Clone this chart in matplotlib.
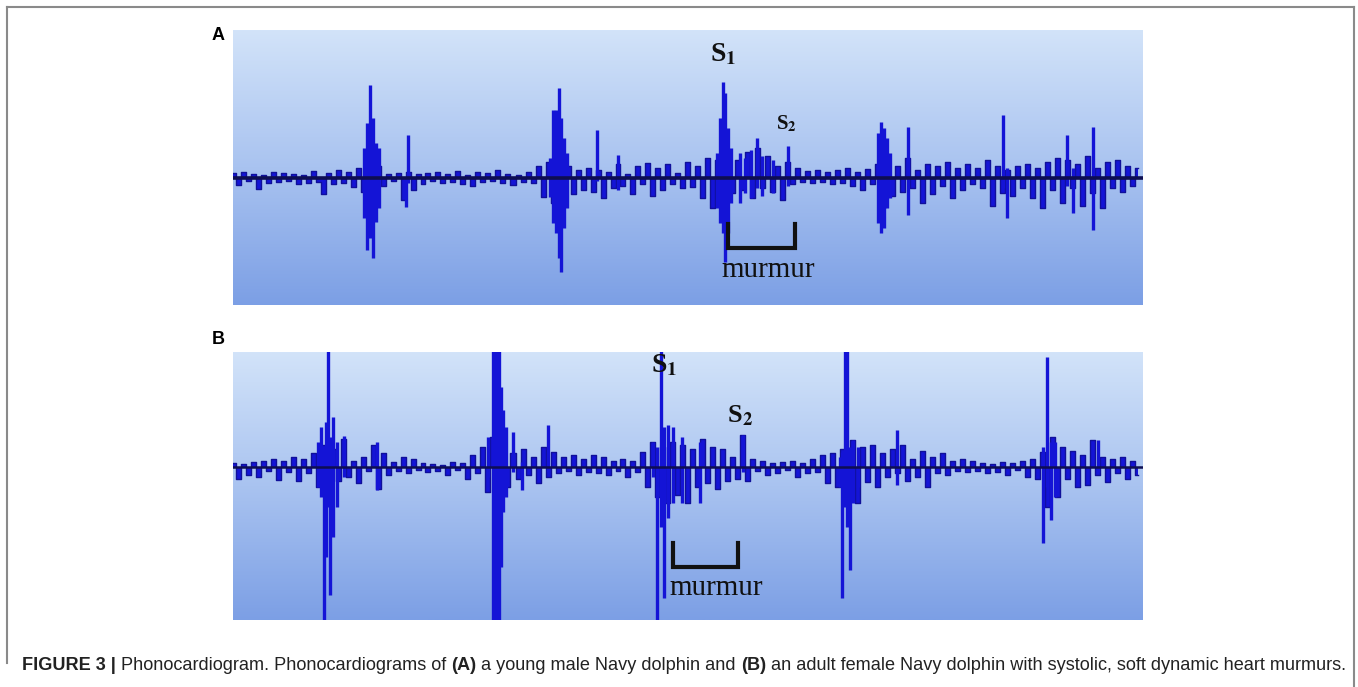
import matplotlib.pyplot as plt
import numpy as np
from matplotlib.colors import LinearSegmentedColormap
from matplotlib.lines import Line2D

W, H = 1358, 687

# trace samples every 5 units (units = px of original plot width, 0..910)
dt = 5

# ---- panel A : young male ----
noise_a = [5, -7, 6, -3, 4, -11, 3, -5, 6, -4,
           5, -3, 4, -6, 3, -5, 7, -4, -16, 5,
           -6, 8, -5, 6, -9, 10, -14, 14, -18, 12,
           -8, 4, -3, 5, -22, 6, -12, 4, -6, 5,
           -3, 6, -5, 4, -4, 7, -6, 3, -8, 6,
           -4, 5, -3, 8, -5, 4, -7, 3, -4, 6,
           -5, 12, -19, 16, -25, 20, -22, 12, -16, 8,
           -12, 10, -14, 8, -20, 6, -10, 14, -8, 4,
           -16, 12, -6, 15, -18, 10, -12, 14, -6, 5,
           -10, 16, -9, 12, -20, 20, -30, 18, -34, 22,
           -15, 18, -12, 26, -20, 30, -10, 22, -14, 12,
           -22, 16, -6, 10, -4, 7, -5, 8, -4, 6,
           -6, 8, -5, 10, -8, 6, -12, 9, -6, 14,
           -30, 22, -18, 12, -14, 20, -10, 8, -25, 14,
           -16, 12, -8, 16, -20, 10, -12, 14, -6, 10,
           -10, 18, -28, 12, -15, 8, -18, 12, -10, 14,
           -20, 10, -30, 16, -12, 20, -25, 18, -10, 14,
           -28, 22, -15, 10, -30, 16, -10, 18, -14, 12,
           -8, 10]

spk_x_a = [131, 134, 137, 140, 143, 146, 173, 175,
           317, 320, 323, 326, 328, 331, 334, 364, 385,
           484, 487, 490, 492, 495, 498, 507, 512, 518, 524, 529, 540, 555,
           645, 648, 651, 654, 657, 675, 770, 774, 834, 840, 860]
spk_hi_a = [30, 55, 93, 60, 35, 30, 0, 43,
            20, 68, 68, 90, 60, 40, 25, 48, 23,
            25, 60, 96, 85, 50, 30, 25, 20, 28, 40, 22, 18, 32,
            45, 56, 50, 40, 25, 51, 63, 10, 43, 10, 51]
spk_lo_a = [-40, -72, -60, -80, -44, -30, -29, -5,
            -19, -45, -55, -80, -94, -50, -30, -3, -12,
            -30, -45, -55, -84, -55, -25, -25, -15, -20, -10, -18, -15, -8,
            -45, -55, -50, -30, -20, -37, -10, -40, -8, -35, -52]

# ---- panel B : adult female ----
noise_b = [4, -12, 3, -8, 5, -10, 6, -4, 8, -13,
           6, -5, 10, -14, 8, -6, 14, -20, 22, -30,
           18, -14, 28, -10, 6, -16, 10, -4, 22, -22,
           14, -8, 5, -4, 10, -6, 8, -3, 4, -5,
           3, -4, 2, -8, 5, -3, 4, -12, 12, -6,
           20, -25, 30, -30, 25, -20, 14, -12, 18, -8,
           10, -16, 20, -10, 15, -6, 10, -4, 12, -8,
           8, -5, 12, -6, 10, -8, 6, -4, 8, -10,
           6, -5, 15, -20, 25, -30, 20, -36, 25, -28,
           22, -36, 18, -20, 28, -16, 20, -22, 18, -14,
           10, -12, 32, -14, 8, -4, 6, -8, 4, -6,
           5, -3, 6, -10, 4, -6, 8, -5, 12, -16,
           14, -20, 18, -30, 27, -36, 20, -15, 22, -20,
           14, -10, 18, -6, 22, -14, 8, -10, 16, -20,
           10, -6, 14, -8, 6, -4, 8, -5, 6, -4,
           4, -6, 3, -5, 5, -8, 4, -3, 6, -10,
           8, -12, 15, -40, 30, -30, 20, -12, 16, -20,
           12, -18, 27, -8, 10, -15, 8, -6, 10, -12,
           6, -8]

spk_x_b = [85, 88, 91, 93, 95, 97, 100, 104, 111, 144,
           255, 260, 262, 264, 266, 268, 270, 273, 280, 289, 315,
           420, 424, 428, 431, 435, 440, 449, 467, 510,
           607, 609, 612, 614, 617, 620, 625, 664,
           810, 814, 818, 822, 865]
spk_hi_b = [25, 40, 20, 45, 120, 30, 50, 25, 31, 25,
            30, 120, 120, 120, 120, 80, 57, 40, 35, 5, 42,
            25, 20, 120, 40, 42, 40, 30, 25, 32,
            10, 15, 120, 120, 20, 27, 20, 37,
            20, 110, 25, 25, 27]
spk_lo_b = [-20, -30, -160, -90, -40, -128, -70, -40, -10, -23,
            -10, -160, -160, -160, -160, -100, -45, -30, -5, -23, -5,
            -10, -160, -60, -131, -51, -36, -36, -36, -5,
            -20, -131, -40, -60, -103, -36, -20, -18,
            -76, -20, -53, -30, -5]

blue = '#1414d6'
navy = '#0e0e52'
bg = LinearSegmentedColormap.from_list('bg', ['#d2e3f9', '#a9c3f0', '#7c9fe5'])


def px(x, y):
    return x / W, 1 - y / H


def draw_trace(ax, noise, sx, shi, slo, ylo, yhi, base_lw):
    grad = np.linspace(0, 1, 256).reshape(-1, 1)
    ax.imshow(grad, extent=[0, 910, ylo, yhi], aspect='auto', cmap=bg,
              origin='upper', zorder=0)
    t = np.arange(len(noise)) * dt
    ax.fill_between(t, 0, noise, step='mid', color=blue, lw=0, zorder=2)
    ax.step(t, noise, where='mid', color='#10109a', lw=1.0, zorder=2)
    ax.vlines(sx, slo, shi, color=blue, lw=2.4, zorder=3)
    ax.axhline(0, color=navy, lw=base_lw, zorder=4)
    ax.set_xlim(0, 910)
    ax.set_ylim(ylo, yhi)
    ax.axis('off')


fig = plt.figure(figsize=(W / 100, H / 100), dpi=100)

ax_a = fig.add_axes([233 / W, 1 - 305 / H, 910 / W, 275 / H])
draw_trace(ax_a, noise_a, spk_x_a, spk_hi_a, spk_lo_a, -127, 148, 2.6)
ax_b = fig.add_axes([233 / W, 1 - 620 / H, 910 / W, 268 / H])
draw_trace(ax_b, noise_b, spk_x_b, spk_hi_b, spk_lo_b, -153, 115, 1.8)

plt.rcParams['mathtext.fontset'] = 'stix'
serif = 'Liberation Serif'

# murmur brackets
ax_a.plot([495, 495, 562, 562], [-46, -70, -70, -46], color='#111111', lw=3, zorder=5,
          solid_joinstyle='miter')
ax_b.plot([440, 440, 505, 505], [-76, -100, -100, -76], color='#111111', lw=3, zorder=5,
          solid_joinstyle='miter')

fig.text(*px(768, 270), 'murmur', family=serif, fontsize=21, ha='center', va='center', color='#111111')
fig.text(*px(716, 588), 'murmur', family=serif, fontsize=21, ha='center', va='center', color='#111111')

fig.text(*px(723, 55), r'S$_\mathbf{1}$', family=serif, weight='bold', fontsize=20,
         ha='center', va='center', color='#111111')
fig.text(*px(786, 124), r'S$_\mathbf{2}$', family=serif, weight='bold', fontsize=15,
         ha='center', va='center', color='#111111')
fig.text(*px(664, 366), r'S$_\mathbf{1}$', family=serif, weight='bold', fontsize=20,
         ha='center', va='center', color='#111111')
fig.text(*px(740, 416), r'S$_\mathbf{2}$', family=serif, weight='bold', fontsize=19,
         ha='center', va='center', color='#111111')

fig.text(*px(218, 35), 'A', family='Liberation Sans', weight='bold', fontsize=13, ha='center', va='center')
fig.text(*px(218, 340), 'B', family='Liberation Sans', weight='bold', fontsize=13, ha='center', va='center')

# caption, fitted to the original width
pieces = [("FIGURE 3 | ", 'bold'), ("Phonocardiogram. Phonocardiograms of ", 'normal'),
          ("(A)", 'bold'), (" a young male Navy dolphin and ", 'normal'), ("(B)", 'bold'),
          (" an adult female Navy dolphin with systolic, soft dynamic heart murmurs.", 'normal')]


def caption(size):
    r = fig.canvas.get_renderer()
    x = 22
    arts = []
    for s, w in pieces:
        t = fig.text(*px(x, 665), s, family='Liberation Sans', weight=w, fontsize=size,
                     ha='left', va='center', color='#222222')
        x = t.get_window_extent(r).x1
        arts.append(t)
    return arts, x - 22


arts, width = caption(12)
for a in arts:
    a.remove()
caption(12 * 1326 / width)

# frame round the figure
for xs, ys in [([7, 1354], [7, 7]), ([7, 7], [7, 663]), ([1354, 1354], [7, 687])]:
    fig.add_artist(Line2D([x / W for x in xs], [1 - y / H for y in ys], color='#8a8a8a', lw=1.5))

fig.savefig('out.png', dpi=100)
